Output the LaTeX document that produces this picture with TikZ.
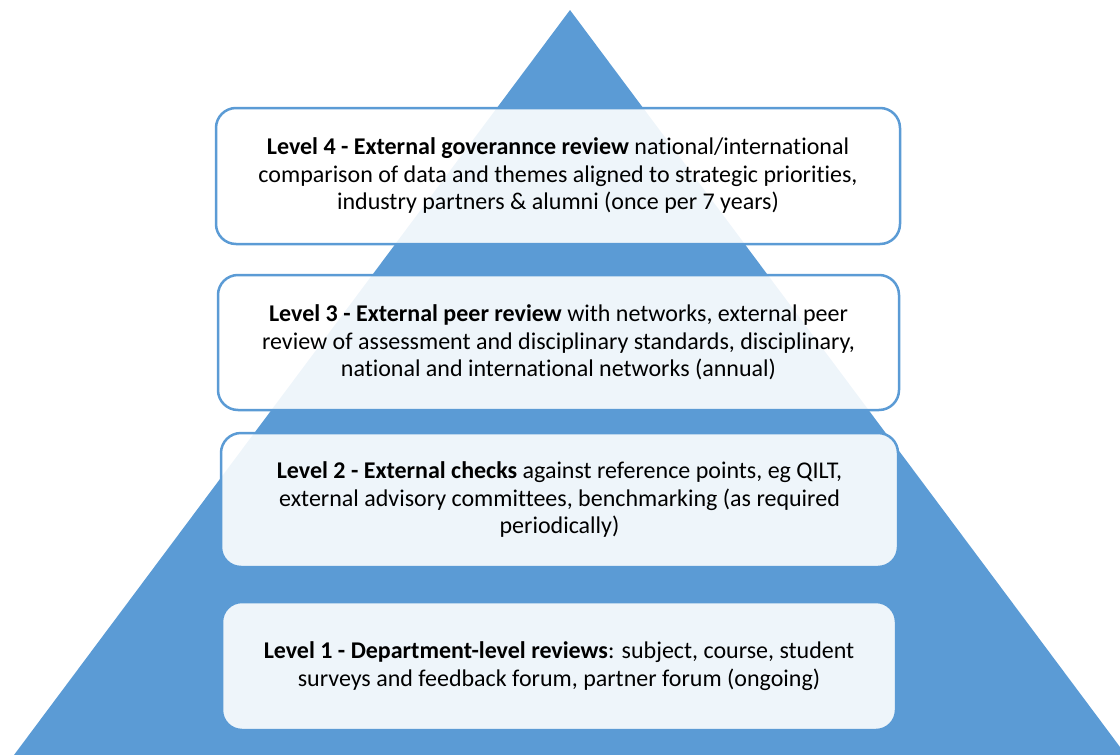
\documentclass[tikz,border=0pt]{standalone}
\usepackage{fontspec}
\setmainfont[Ligatures=NoCommon]{Carlito}
\definecolor{pyrblue}{HTML}{5B9BD5}
\begin{document}
\begin{tikzpicture}[x=1pt,y=-1pt,
  levelbox/.style={draw=pyrblue,line width=2.5pt,rounded corners=20pt,fill=white,fill opacity=0.9,text opacity=1,
    align=center,inner sep=0pt,font=\fontsize{24}{27.5}\selectfont}]
\clip (0,0) rectangle (1120,755);
\fill[pyrblue] (570,10) -- (1126,755) -- (14,755) -- cycle;
\node[levelbox,minimum width=684pt,minimum height=136pt] (l4)at(558,176){\textbf{Level 4 - External goverannce review} national/international\\ comparison of data and themes aligned to strategic priorities,\\ industry partners \& alumni (once per 7 years)};
\node[levelbox,minimum width=681pt,minimum height=135pt] (l3)at(558.5,342.5){\textbf{Level 3 - External peer review} with networks, external peer\\ review of assessment and disciplinary standards, disciplinary,\\ national and international networks (annual)};
\node[levelbox,minimum width=677pt,minimum height=134pt] (l2)at(559.5,500){\textbf{Level 2 - External checks} against reference points, eg QILT,\\ external advisory committees, benchmarking (as required\\ periodically)};
\node[levelbox,minimum width=674pt,minimum height=128pt] (l1)at(559,666){\textbf{Level 1 - Department-level reviews}: subject, course, student\\ surveys and feedback forum, partner forum (ongoing)};
\end{tikzpicture}
\end{document}
